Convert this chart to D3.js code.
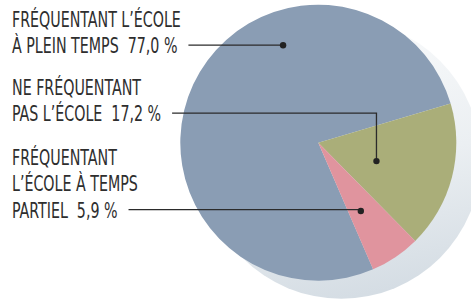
<!DOCTYPE html>
<html>
<head>
<meta charset="utf-8">
<script src="https://cdn.jsdelivr.net/npm/d3@7"></script>
<style>
  body { margin: 0; background: #fff; }
  svg text { font-family: "Liberation Sans Narrow", "DejaVu Sans Condensed", "Roboto", sans-serif; fill: #2e2e2e; white-space: pre; }
</style>
</head>
<body>
<div id="chart"></div>
<script>
// valeurs
const categories = ['plein', 'ne', 'partiel'];
const values = [77.0, 17.2, 5.9];
const colors = ['#8a9db4', '#aaae79', '#e0949e'];
const labelLines = [
  ['FRÉQUENTANT L\u2019ÉCOLE', 'À PLEIN TEMPS  77,0 %'],
  ['NE FRÉQUENTANT', 'PAS L\u2019ÉCOLE  17,2 %'],
  ['FRÉQUENTANT', 'L\u2019ÉCOLE À TEMPS', 'PARTIEL  5,9 %']
];

const width = 471, height = 299;
const cx = 318.3, cy = 142.7, radius = 138;

const svg = d3.select('#chart').append('svg')
  .attr('width', width)
  .attr('height', height);

// ombre derriere le camembert
const defs = svg.append('defs');
const grad = defs.append('linearGradient')
  .attr('id', 'shadowGrad')
  .attr('x1', 0.3).attr('y1', 0)
  .attr('x2', 0.5).attr('y2', 1);
grad.append('stop').attr('offset', '0%').attr('stop-color', '#fafbfc');
grad.append('stop').attr('offset', '55%').attr('stop-color', '#ebeff2');
grad.append('stop').attr('offset', '100%').attr('stop-color', '#d5dde4');

svg.append('circle')
  .attr('cx', cx + 23)
  .attr('cy', cy + 16.6)
  .attr('r', 139.5)
  .attr('fill', 'url(#shadowGrad)');

const g = svg.append('g')
  .attr('transform', `translate(${cx},${cy})`);

const startA = 156.6 * Math.PI / 180;
const pie = d3.pie()
  .sort(null)
  .value(d => d)
  .startAngle(startA)
  .endAngle(startA + 2 * Math.PI);

const arcs = pie(values);
const arc = d3.arc().innerRadius(0).outerRadius(radius);

g.selectAll('path')
  .data(arcs)
  .join('path')
  .attr('d', arc)
  .attr('fill', (d, i) => colors[i]);

// ou tombe le point de chaque etiquette dans sa part
const anchorFrac = [0.663, 0.55, 0.6];
const anchorR = [104, 61, 80.5];
function anchorPoint(i) {
  const a = arcs[i].startAngle + (arcs[i].endAngle - arcs[i].startAngle) * anchorFrac[i];
  return [cx + anchorR[i] * Math.sin(a), cy - anchorR[i] * Math.cos(a)];
}

// etiquettes
const labelX = 12;
const labelTop = [27, 95, 165];
const lineH = 26.5;
const fontSize = 21;

const labels = svg.append('g');
labelLines.forEach((lines, i) => {
  const t = labels.append('g');
  lines.forEach((s, j) => {
    t.append('text')
      .attr('x', labelX)
      .attr('y', labelTop[i] + j * lineH)
      .attr('font-size', fontSize)
      .text(s);
  });
});

// condenser le texte pour coller a la largeur du modele
const ref = labels.select('text').node();
const sx = 169 / ref.getComputedTextLength();
labels.selectAll('text').each(function () {
  d3.select(this).attr('transform', `translate(${labelX},0) scale(${sx},1) translate(${-labelX},0)`);
});

labelLines.forEach((lines, i) => {
  const last = labels.selectAll('g').nodes()[i].lastChild;
  const endX = labelX + last.getComputedTextLength() * sx + 11;
  const y = labelTop[i] + (lines.length - 1) * lineH - 8.3;
  const [px, py] = anchorPoint(i);
  const pts = Math.abs(py - y) < 1 ? [[endX, y], [px, y]] : [[endX, y], [px, y], [px, py]];
  svg.append('path')
    .attr('d', d3.line()(pts))
    .attr('fill', 'none')
    .attr('stroke', '#2b2b2b')
    .attr('stroke-width', 1.3);
  svg.append('circle')
    .attr('cx', px).attr('cy', Math.abs(py - y) < 1 ? y : py)
    .attr('r', 3.2)
    .attr('fill', '#222');
});
</script>
</body>
</html>
